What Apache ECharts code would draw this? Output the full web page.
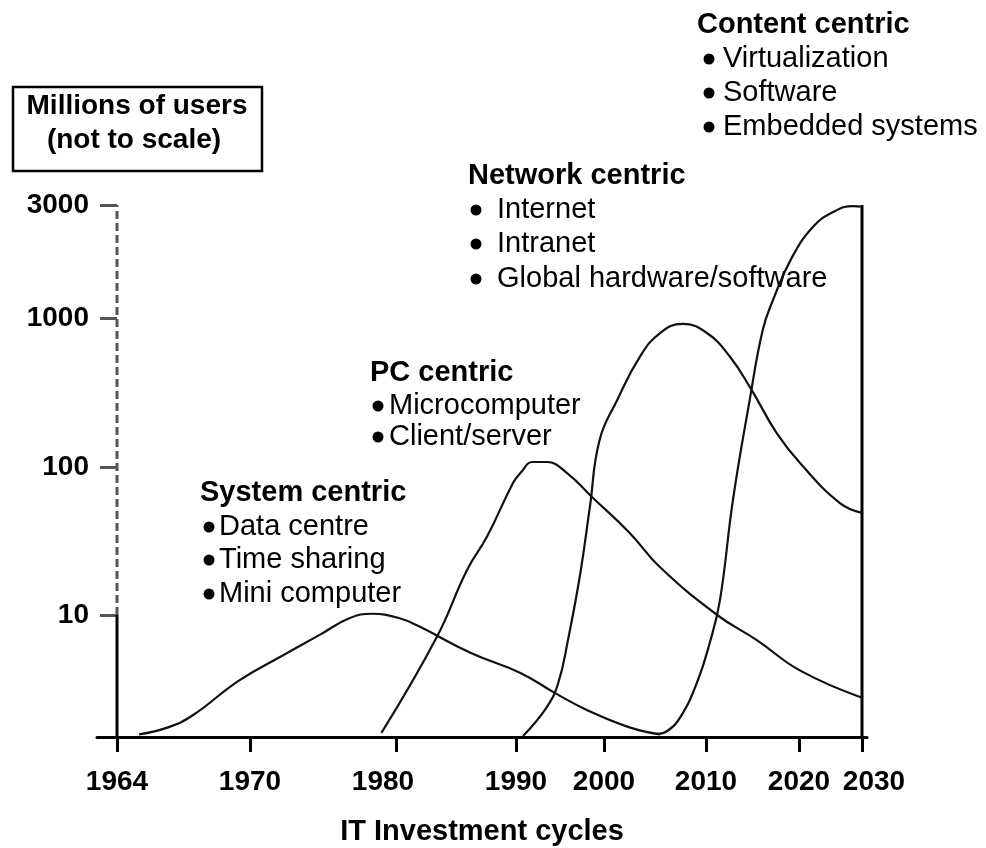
<!DOCTYPE html>
<html>
<head>
<meta charset="UTF-8">
<title>IT Investment cycles</title>
<script src="https://cdn.jsdelivr.net/npm/echarts@6.0.0/dist/echarts.min.js"></script>
<style type="text/css">
html, body {
	width: 100%;
	height: 100%;
	padding: 0px;
	margin: 0px;
	background: #fff;
}
</style>
</head>
<body>
	<div id="chart" style="width: 986px; height: 848px;"></div>

	<script type="text/javascript">
        // tick labels (the axes are "not to scale")
        var yearTicks = [1964, 1970, 1980, 1990, 2000, 2010, 2020, 2030];
        var userTicks = [1, 10, 100, 1000, 3000];
        var userLabels = ['', '10', '100', '1000', '3000'];

        // curves: [year, millions of users]
        var systemCentric = [[1965.0, 1.05], [1966.3, 1.2], [1967.4, 1.5], [1969.5, 2.9], [1972.3, 4.7],
            [1974.8, 6.9], [1976.8, 9.4], [1978.4, 10.2], [1980.3, 9.4], [1982, 8], [1986.2, 4.9],
            [1990.5, 3.35], [1994.4, 2.3], [1998.1, 1.66], [2002.5, 1.2], [2005.5, 1.05]];
        var pcCentric = [[1979.0, 1.08], [1983.4, 6.6], [1985.9, 20], [1987.6, 34], [1989.75, 78],
            [1990.5, 91], [1991.9, 108], [1993.5, 108], [1995.8, 91], [1998.6, 63], [2002.5, 36],
            [2005.5, 21], [2011.2, 10], [2015.5, 6.2], [2020.2, 3.5], [2030, 2.1]];
        var networkCentric = [[1990.8, 1.02], [1993.5, 1.76], [1994.8, 2.77], [1995.9, 6.2], [1997.3, 19],
            [1998.4, 54], [1999.5, 152], [2001.3, 282], [2003.5, 547], [2005.5, 793], [2007.7, 912],
            [2010.1, 793], [2012.6, 547], [2014.9, 329], [2017.6, 169], [2020.2, 106], [2026.5, 57], [2030, 49]];
        var contentCentric = [[2005.2, 1.06], [2006.2, 1.12], [2007.5, 1.46], [2009.1, 2.77], [2010.4, 5.9],
            [2011.5, 12.6], [2012.9, 60], [2014.7, 282], [2016.1, 830], [2017.2, 1190], [2019.2, 1790],
            [2022.2, 2420], [2025.4, 2800], [2028.6, 2970], [2030, 2950]];

        // annotation texts
        var blockTitles = ['System centric', 'PC centric', 'Network centric', 'Content centric'];
        var blockItems = [
            ['Data centre', 'Time sharing', 'Mini computer'],
            ['Microcomputer', 'Client/server'],
            ['Internet', 'Intranet', 'Global hardware/software'],
            ['Virtualization', 'Software', 'Embedded systems']
        ];

        // where each tick sits along its axis (px from the origin)
        var yearTickPos = [0, 133, 279, 399, 487, 589, 682, 745];
        var userTickPos = [0, 122, 270, 419, 532];
        var labelShift = {1980: -13, 2030: 12};
        var blockLayout = [
            {x: 200, y: 493, bx: 209, tx: 219, ys: [527, 560, 594]},
            {x: 370, y: 373, bx: 378, tx: 389, ys: [406, 437]},
            {x: 468, y: 176, bx: 476, tx: 497, ys: [210, 244, 279]},
            {x: 697, y: 25, bx: 709, tx: 723, ys: [59, 93, 127]}
        ];
        var FONT = '"Liberation Sans", Arial, sans-serif';

        // piecewise scale
        function interp(v, from, to) {
            var n = from.length, i = 0;
            while (i < n - 2 && v > from[i + 1]) i++;
            return to[i] + (v - from[i]) * (to[i + 1] - to[i]) / (from[i + 1] - from[i]);
        }
        var userLogs = userTicks.map(function (u) { return Math.log10(u); });
        function xPos(year) { return interp(year, yearTicks, yearTickPos); }
        function yPos(users) { return interp(Math.log10(users), userLogs, userTickPos); }
        function toAxis(arr) { return arr.map(function (p) { return [xPos(p[0]), yPos(p[1])]; }); }
        function tickIndex(v, list) {
            for (var i = 0; i < list.length; i++) if (Math.abs(list[i] - v) < 0.5) return i;
            return -1;
        }

        var yearRich = {};
        yearTicks.forEach(function (y, i) {
            var s = labelShift[y] || 0;
            yearRich['t' + i] = {
                fontFamily: FONT, fontSize: 28, fontWeight: 'bold', color: '#000',
                padding: s < 0 ? [0, -2 * s, 0, 0] : [0, 0, 0, 2 * s]
            };
        });

        function curve(name, data) {
            return {
                name: name, type: 'line', data: toAxis(data), smooth: 0.45, symbol: 'none',
                clip: false, silent: true,
                lineStyle: {color: '#111', width: 2.2}
            };
        }
        function frame(data, color, type) {
            return {
                type: 'line', data: data, symbol: 'none', clip: false, silent: true,
                lineStyle: {color: color, width: 3, type: type}
            };
        }

        var graphics = [
            {type: 'rect', shape: {x: 13, y: 87, width: 249, height: 84},
             style: {fill: 'none', stroke: '#000', lineWidth: 2.5}},
            {type: 'text', x: 137, y: 106, style: {text: 'Millions of users', font: 'bold 28px ' + FONT,
             fill: '#000', align: 'center', verticalAlign: 'middle', textAlign: 'center', textVerticalAlign: 'middle'}},
            {type: 'text', x: 134, y: 140, style: {text: '(not to scale)', font: 'bold 28px ' + FONT,
             fill: '#000', align: 'center', verticalAlign: 'middle', textAlign: 'center', textVerticalAlign: 'middle'}}
        ];
        blockTitles.forEach(function (t, b) {
            var L = blockLayout[b];
            graphics.push({type: 'text', x: L.x, y: L.y, style: {text: t, font: 'bold 29px ' + FONT, fill: '#000',
                align: 'left', verticalAlign: 'middle', textAlign: 'left', textVerticalAlign: 'middle'}});
            blockItems[b].forEach(function (item, k) {
                graphics.push({type: 'circle', shape: {cx: L.bx, cy: L.ys[k], r: 5.5}, style: {fill: '#000'}});
                graphics.push({type: 'text', x: L.tx, y: L.ys[k], style: {text: item, font: '29px ' + FONT, fill: '#000',
                    align: 'left', verticalAlign: 'middle', textAlign: 'left', textVerticalAlign: 'middle'}});
            });
        });

        var myChart = echarts.init(document.getElementById('chart'));
        myChart.setOption({
            animation: false,
            backgroundColor: '#fff',
            grid: {left: 97, right: 119, top: 197, bottom: 111, containLabel: false, outerBoundsMode: 'none'},
            xAxis: {
                type: 'value', min: -20, max: 750,
                splitLine: {show: false},
                axisLine: {show: true, onZero: false, lineStyle: {color: '#000', width: 3}},
                axisTick: {show: true, customValues: yearTickPos, length: 15, lineStyle: {color: '#000', width: 3}},
                axisLabel: {
                    customValues: yearTickPos, margin: 31, rich: yearRich,
                    formatter: function (v) {
                        var i = tickIndex(v, yearTickPos);
                        return i < 0 ? '' : '{t' + i + '|' + yearTicks[i] + '}';
                    }
                },
                name: 'IT Investment cycles', nameLocation: 'middle', nameGap: 80,
                nameTextStyle: {fontFamily: FONT, fontSize: 29, fontWeight: 'bold', color: '#000'}
            },
            yAxis: {
                type: 'value', min: 0, max: 540, offset: -20,
                splitLine: {show: false},
                axisLine: {show: false, onZero: false},
                axisTick: {show: true, customValues: userTickPos.slice(1), length: 17, lineStyle: {color: '#555', width: 3}},
                axisLabel: {
                    customValues: userTickPos.slice(1), margin: 28,
                    fontFamily: FONT, fontSize: 28, fontWeight: 'bold', color: '#000',
                    formatter: function (v) {
                        var i = tickIndex(v, userTickPos);
                        return i < 0 ? '' : userLabels[i];
                    }
                }
            },
            series: [
                frame([[xPos(1964), yPos(1)], [xPos(1964), yPos(10)]], '#000', 'solid'),
                frame([[xPos(1964), yPos(10)], [xPos(1964), yPos(3000)]], '#555', [8, 4]),
                frame([[xPos(2030), yPos(1)], [xPos(2030), yPos(3000)]], '#000', 'solid'),
                curve('System centric', systemCentric),
                curve('PC centric', pcCentric),
                curve('Network centric', networkCentric),
                curve('Content centric', contentCentric)
            ],
            graphic: graphics
        });
	</script>
</body>
</html>
